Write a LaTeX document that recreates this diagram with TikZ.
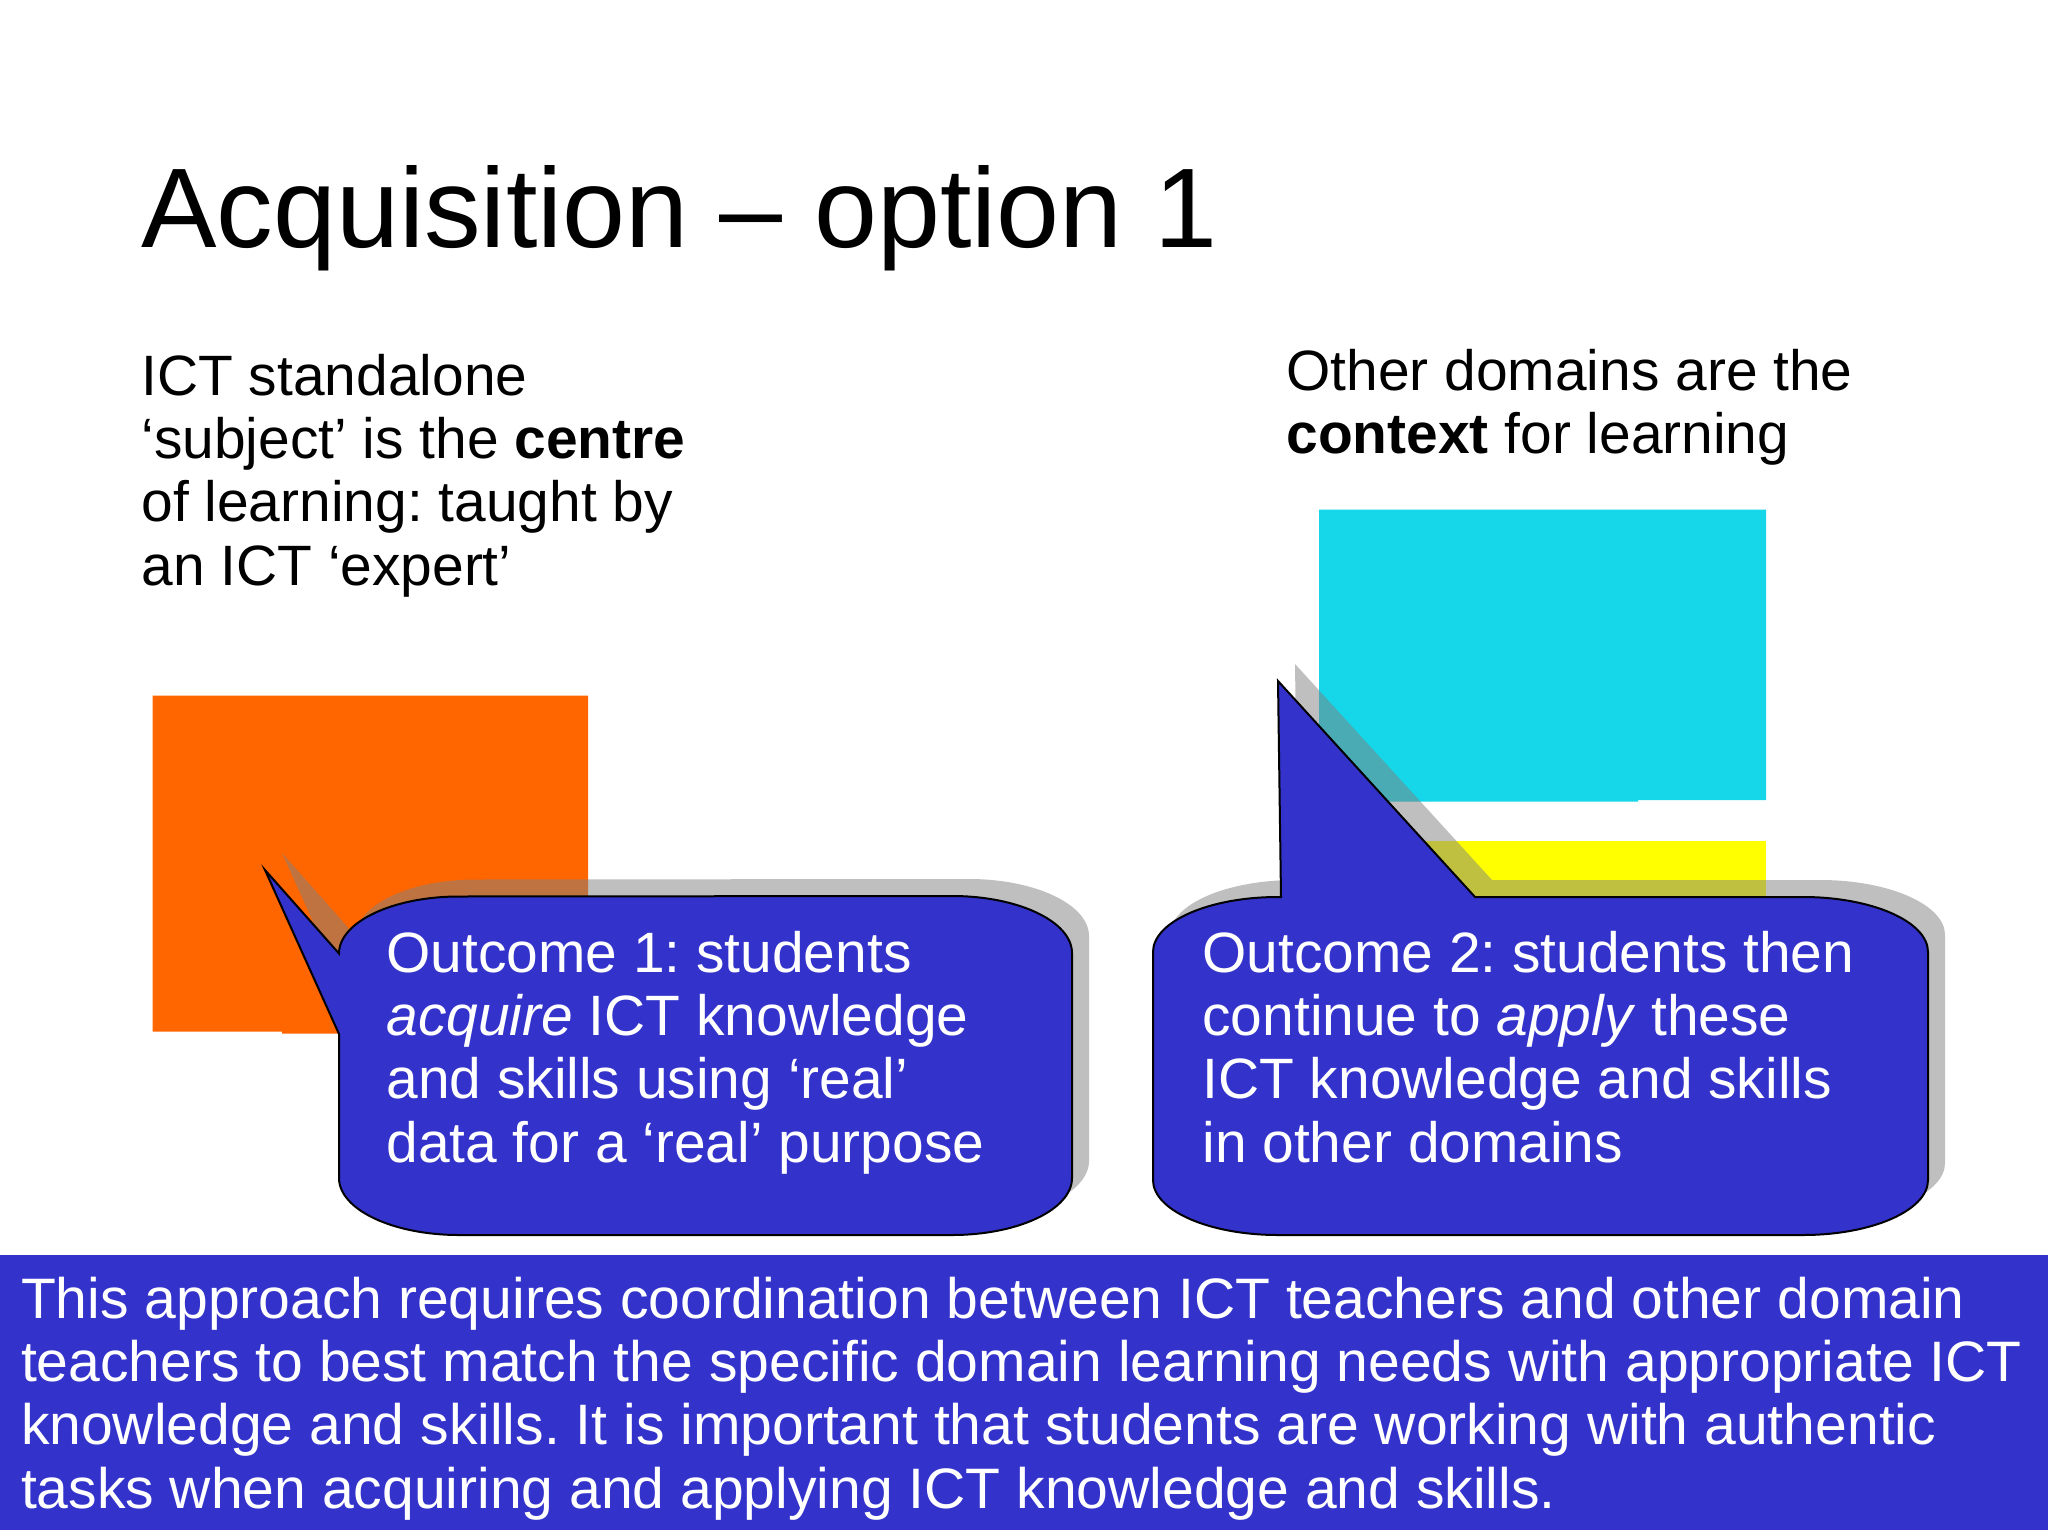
\documentclass[tikz,border=0pt]{standalone}
\usepackage{fontspec}
\setmainfont{Liberation Sans}
\frenchspacing
\definecolor{slideblue}{HTML}{3333CC}
\definecolor{slideorange}{HTML}{FF6600}
\definecolor{slidecyan}{HTML}{15D7E9}
\definecolor{slideyellow}{HTML}{FFFF00}
\newcommand{\slidelines}[1]{\vtop{\baselineskip=63.4pt\lineskiplimit=-200pt\lineskip=0pt #1}}
\newcommand{\bubbleone}{(265,870) -- (339,1034) -- (339,1178)
  arc[start angle=180,end angle=90,x radius=120,y radius=57] -- (952,1235)
  arc[start angle=90,end angle=0,x radius=120,y radius=57] -- (1072,953)
  arc[start angle=0,end angle=-90,x radius=120,y radius=57] -- (459,896.5)
  arc[start angle=-90,end angle=-180,x radius=120,y radius=57] -- cycle}
\newcommand{\bubbletwo}{(1278,681) -- (1281,897) -- (1278,897)
  arc[start angle=-90,end angle=-180,x radius=125,y radius=55] -- (1153,1180)
  arc[start angle=180,end angle=90,x radius=125,y radius=55] -- (1803,1235)
  arc[start angle=90,end angle=0,x radius=125,y radius=55] -- (1928,952)
  arc[start angle=0,end angle=-90,x radius=125,y radius=55] -- (1475,897) -- cycle}
\tikzset{
  x=1pt,y=-1pt,
  fillshape/.style={fill=#1,draw=none},
  bubbleshape/.style={fill=slideblue,draw=black,line width=2pt,line join=miter},
  shadowshape/.style={fill=black!50,fill opacity=0.5,draw=none},
  slidetext/.style={anchor=base west,inner sep=0pt,outer sep=0pt,font=\fontsize{56.9pt}{63.4pt}\selectfont},
  whitetext/.style={slidetext,text=white},
  titletext/.style={anchor=base west,inner sep=0pt,font=\fontsize{113.2pt}{125pt}\selectfont}
}
\begin{document}
\begin{tikzpicture}
\useasboundingbox (0,0) rectangle (2048,1536);
\fill[white] (0,0) rectangle (2048,1536);
\fill[fillshape=slideorange] (152.5,695.5) -- (588,695.5) -- (588,1033.7) -- (282,1033.7) -- (282,1031.7) -- (152.5,1031.7) -- cycle;
\fill[fillshape=slidecyan] (1319,509.5) -- (1766,509.5) -- (1766,800) -- (1638,800) -- (1638,801.5) -- (1319,801.5) -- cycle;
\fill[fillshape=slideyellow] (1319,841) -- (1766,841) -- (1766,1000) -- (1319,1000) -- cycle;
\begin{scope}[shift={(17,-17)}]
\fill[shadowshape] \bubbleone;
\fill[shadowshape] \bubbletwo;
\end{scope}
\draw[bubbleshape] \bubbleone;
\draw[bubbleshape] \bubbletwo;
\fill[fillshape=slideblue] (0,1254.5) rectangle (2048,1529.5);
\node[titletext] (title) at (141,247.5) {Acquisition – option 1};
\node[slidetext] (lefttext) at (141.5,395) {\slidelines{\hbox{ICT standalone}\hbox{‘subject’ is the \textbf{centre}}\hbox{of learning: taught by}\hbox{an ICT ‘expert’}}};
\node[slidetext] (righttext) at (1286.5,390) {\slidelines{\hbox{Other domains are the}\hbox{\textbf{context} for learning}}};
\node[whitetext] (outcomeone) at (386.5,972) {\slidelines{\hbox{Outcome 1: students}\hbox{\textit{acquire} ICT knowledge}\hbox{and skills using ‘real’}\hbox{data for a ‘real’ purpose}}};
\node[whitetext] (outcometwo) at (1202.5,972) {\slidelines{\hbox{Outcome 2: students then}\hbox{continue to \textit{apply} these}\hbox{ICT knowledge and skills}\hbox{in other domains}}};
\node[whitetext,font=\fontsize{57.05pt}{63.4pt}\selectfont] (band) at (21,1318) {\slidelines{\hbox{This approach requires coordination between ICT teachers and other domain}\hbox{teachers to best match the specific domain learning needs with appropriate ICT}\hbox{knowledge and skills. It is important that students are working with authentic}\hbox{tasks when acquiring and applying ICT knowledge and skills.}}};
\end{tikzpicture}
\end{document}
